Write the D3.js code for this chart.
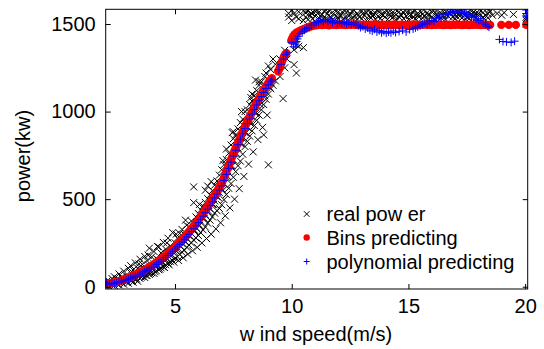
<!DOCTYPE html>
<html>
<head>
<meta charset="utf-8">
<script src="https://cdn.jsdelivr.net/npm/d3@7/dist/d3.min.js"></script>
<style>
  html, body { margin: 0; padding: 0; background: #fff; }
  svg { display: block; }
  text { font-family: "Liberation Sans", Arial, sans-serif; fill: #000; }
</style>
</head>
<body>
<svg id="chart" width="544" height="349"></svg>
<script>
// ---- data ----
const xTicks = [5, 10, 15, 20];
const yTicks = [0, 500, 1000, 1500];
const xDomain = [2.03, 20.11];
const yDomain = [-13, 1584];
const seriesNames = ["real pow er", "Bins predicting", "polynomial predicting"];

// real power: [wind speed, power]
const realPoints = [
[2.1,5],[2.1,20],[2.1,35],[2.2,0],[2.2,28],[2.3,10],[2.3,47],[2.4,7],[2.4,32],[2.4,57],[2.5,18],[2.5,43],
[2.6,11],[2.6,38],[2.6,73],[2.7,24],[2.7,54],[2.8,14],[2.8,49],[2.8,89],[2.9,29],[2.9,64],[3.0,20],[3.0,55],
[3.0,105],[3.1,35],[3.1,80],[3.1,120],[3.2,26],[3.2,51],[3.2,96],[3.3,41],[3.3,76],[3.3,136],[3.4,31],[3.4,61],
[3.4,106],[3.5,47],[3.5,92],[3.5,157],[3.6,58],[3.6,78],[3.6,128],[3.7,53],[3.7,103],[3.7,173],[3.8,64],[3.8,89],
[3.8,149],[3.9,70],[3.9,120],[3.9,220],[4.0,80],[4.0,105],[4.0,170],[4.1,76],[4.1,131],[4.1,201],[4.2,91],[4.2,116],
[4.2,161],[4.3,97],[4.3,152],[4.3,227],[4.4,108],[4.4,138],[4.4,193],[4.5,113],[4.5,173],[4.5,253],[4.6,125],[4.6,155],
[4.6,215],[4.7,132],[4.7,197],[4.7,277],[4.8,143],[4.8,178],[4.8,233],[4.9,149],[4.9,219],[4.9,309],[5.0,161],[5.0,196],
[5.0,251],[5.1,172],[5.1,212],[5.1,277],[5.2,184],[5.2,234],[5.2,304],[5.3,197],[5.3,247],[5.3,327],[5.4,209],[5.4,264],
[5.4,299],[5.5,226],[5.5,276],[5.5,351],[5.6,238],[5.6,293],[5.6,343],[5.7,250],[5.7,305],[5.7,375],[5.8,267],[5.8,327],
[5.8,480],[5.8,570],[5.9,278],[5.9,338],[5.9,398],[6.0,293],[6.0,358],[6.0,418],[6.1,309],[6.1,374],[6.1,439],[6.2,325],
[6.2,390],[6.2,460],[6.3,341],[6.3,411],[6.3,481],[6.3,551],[6.4,363],[6.4,428],[6.4,503],[6.4,575],[6.5,380],[6.5,445],
[6.5,525],[6.6,399],[6.6,469],[6.6,549],[6.7,420],[6.7,490],[6.7,580],[6.8,434],[6.8,514],[6.8,604],[6.9,447],[6.9,537],
[6.9,637],[7.0,468],[7.0,558],[7.0,668],[7.1,497],[7.1,587],[7.1,697],[7.2,526],[7.2,626],[7.2,726],[7.2,786],[7.3,562],
[7.3,652],[7.3,762],[7.4,589],[7.4,689],[7.4,809],[7.5,625],[7.5,725],[7.5,845],[7.5,885],[7.6,657],[7.6,757],[7.6,867],
[7.7,691],[7.7,791],[7.7,901],[7.8,717],[7.8,817],[7.8,937],[7.9,757],[7.9,847],[7.9,957],[8.0,800],[8.0,880],[8.0,1000],
[8.1,830],[8.1,910],[8.1,1010],[8.2,860],[8.2,940],[8.2,1040],[8.3,890],[8.3,970],[8.3,1060],[8.3,1100],[8.4,920],[8.4,1000],
[8.4,1090],[8.5,950],[8.5,1030],[8.5,1120],[8.6,980],[8.6,1060],[8.6,1150],[8.6,1170],[8.7,1010],[8.7,1080],[8.7,1170],[8.8,1040],
[8.8,1110],[8.8,867],[8.9,1070],[8.9,1140],[8.9,1220],[9.0,696],[9.0,1100],[9.0,1180],[9.0,1260],[9.1,1130],[9.1,1240],[9.2,1150],
[9.2,1300],[9.3,1175],[9.3,1270],[9.5,1200],[9.5,1300],[9.63,1074],[9.7,1250],[9.7,1350],[9.8,1300],[9.87,1560],[9.87,1540],[10.0,1520],
[10.0,1580],[10.1,1353],[10.1,1268],[10.1,1560],[10.2,1220],[10.2,1380],[10.2,1540],[10.3,1373],[10.3,1570],[10.3,1530],[10.5,1365],[10.5,1520],
[10.5,1575],[10.6,1540],[10.6,1565],[10.7,1525],[10.7,1575],[10.8,1550],[10.9,1530],[10.9,1570],[11.0,1545],[11.0,1515],[11.1,1560],[11.1,1580],
[11.2,1530],[11.3,1555],[11.3,1520],[11.4,1570],[11.4,1540],[11.5,1525],[11.6,1550],[11.6,1575],[11.7,1535],[11.8,1560],[11.8,1515],[11.9,1545],
[12.0,1570],[12.0,1530],[12.1,1550],[12.2,1525],[12.2,1565],[12.3,1540],[12.4,1575],[12.4,1520],[12.5,1555],[12.6,1535],[12.6,1570],[12.7,1545],
[12.8,1560],[12.8,1525],[12.9,1540],[13.0,1575],[13.0,1530],[13.1,1550],[13.2,1520],[13.2,1565],[13.3,1545],[13.4,1570],[13.4,1535],[13.5,1555],
[13.6,1525],[13.6,1560],[13.7,1545],[13.8,1575],[13.8,1530],[13.9,1550],[14.0,1540],[14.0,1565],[14.1,1525],[14.2,1555],[14.2,1575],[14.3,1535],
[14.4,1560],[14.4,1545],[14.5,1520],[14.6,1570],[14.6,1540],[14.7,1550],[14.8,1530],[14.8,1565],[14.9,1545],[15.0,1575],[15.0,1525],[15.1,1555],
[15.2,1540],[15.2,1565],[15.3,1530],[15.4,1560],[15.4,1550],[15.5,1575],[15.6,1535],[15.6,1555],[15.7,1545],[15.8,1565],[15.8,1525],[15.9,1550],
[16.0,1570],[16.0,1540],[16.1,1530],[16.2,1555],[16.2,1575],[16.3,1545],[16.4,1560],[16.4,1535],[16.5,1550],[16.6,1570],[16.6,1525],[16.7,1545],
[16.8,1560],[16.8,1575],[16.9,1540],[17.0,1555],[17.0,1530],[17.1,1570],[17.2,1545],[17.2,1560],[17.3,1535],[17.4,1575],[17.4,1550],[17.5,1540],
[17.6,1560],[17.6,1530],[17.7,1555],[17.8,1570],[17.8,1545],[17.9,1535],[18.0,1560],[18.0,1550],[18.1,1575],[18.2,1540],[18.2,1565],[18.3,1550],
[18.4,1560],[18.4,1535],[18.5,1570],[18.8,1560],[19.1,1565],[19.5,1555],[20.05,1500],[20.05,1520],[20.05,1540],[20.05,1530],
[10.65,1582],[10.85,1560],[11.05,1578],[11.25,1548],[11.45,1582],[11.65,1538],[11.85,1580],[12.05,1552],[12.25,1580],[12.45,1545],[12.65,1582],[12.85,1550],
[13.05,1560],[13.25,1580],[13.45,1550],[13.65,1580],[13.85,1555],[14.05,1580],[14.25,1548],[14.45,1582],[14.65,1555],[14.85,1578],[15.05,1548],[15.25,1582],
[15.45,1540],[15.65,1580],[15.85,1552],[16.05,1582],[16.25,1540],[16.45,1578],[16.65,1552],[16.85,1582],[17.05,1545],[17.25,1580],[17.45,1528],[17.65,1580],
[17.85,1555],[18.05,1582],[18.25,1530],[18.45,1582],[18.6,1550],[19.0,1550],
[2.95,30],[3.15,40],[3.35,45],[3.55,55],[3.75,65],[3.95,75],[4.15,85],[4.35,100],[4.55,110],[4.75,125],[4.95,140],[5.15,150],
[5.35,165],[5.55,185],[5.75,205],[5.95,225],[6.15,250],[6.35,275],[6.55,300],[6.75,330],[6.95,365],[7.15,405],[7.35,450],[7.55,500],
[7.75,560],[7.95,630],[8.15,700],[8.35,770],[8.55,840],[8.75,910],[8.95,980],
[4.05,100],[4.25,120],[4.45,140],[4.65,160],[4.85,185],[5.05,205],[5.25,230],[5.45,255],[5.65,290],[5.85,320],[6.05,350],[6.25,390],
[6.45,430],[6.65,470],[6.85,510],[7.05,550],[7.25,630],[7.45,690],[7.65,760],[7.85,820],[8.05,880],[8.25,930],[8.45,990],[8.65,1040],
[8.85,1090],[9.05,1140],
[3.45,130],[3.85,180],[4.25,230],[4.65,250],[5.05,300],[5.45,380],[6.05,470],[6.55,600],[7.05,720],[7.45,880],[7.85,1000],[8.25,1080],
[8.45,1180],[8.85,1200]
];

// Bins predicting: [wind speed, power]
const binsPoints = [
[2.05,14],[2.1,16],[2.15,17],[2.2,19],[2.3,22],[2.4,25],[2.5,28],[2.6,32],[2.7,36],[2.8,40],[2.9,45],[3.0,50],
[3.1,56],[3.2,63],[3.3,69],[3.4,75],[3.5,82],[3.6,89],[3.7,96],[3.8,104],[3.9,112],[4.0,120],[4.1,129],[4.2,138],
[4.3,148],[4.4,158],[4.5,168],[4.6,179],[4.7,191],[4.8,203],[4.9,215],[5.0,228],[5.05,234],[5.1,241],[5.15,248],[5.2,255],
[5.25,262],[5.3,269],[5.35,276],[5.4,283],[5.45,290],[5.5,298],[5.55,305],[5.6,313],[5.65,321],[5.7,329],[5.75,337],[5.8,346],
[5.85,354],[5.9,363],[5.95,371],[6.0,380],[6.05,390],[6.1,399],[6.15,408],[6.2,418],[6.25,428],[6.3,438],[6.35,448],[6.4,458],
[6.45,468],[6.5,478],[6.55,489],[6.6,500],[6.65,511],[6.7,522],[6.75,533],[6.8,544],[6.85,555],[6.9,567],[6.95,578],[7.0,590],
[7.05,606],[7.1,622],[7.15,639],[7.2,656],[7.25,673],[7.3,690],[7.35,707],[7.4,725],[7.45,742],[7.5,760],[7.55,776],[7.6,792],
[7.65,807],[7.7,823],[7.75,838],[7.8,854],[7.85,869],[7.9,885],[7.95,900],[8.0,915],[8.05,929],[8.1,943],[8.15,956],[8.2,970],
[8.25,983],[8.3,997],[8.35,1010],[8.4,1024],[8.45,1037],[8.5,1050],[8.55,1062],[8.6,1074],[8.65,1086],[8.7,1098],[8.75,1110],[8.8,1121],
[8.85,1132],[8.9,1143],[8.95,1154],[9.0,1165],[9.05,1173],[9.1,1180],[9.15,1190],
[9.42,1230],[9.47,1245],[9.52,1262],[9.57,1280],[9.62,1298],[9.67,1314],[9.72,1326],[9.77,1334],
[9.98,1405],[10.02,1418],[10.07,1430],[10.12,1440],[10.2,1450],[10.3,1458],[10.4,1465],[10.5,1470],[10.6,1476],[10.7,1482],[10.8,1486],[10.9,1490],
[11.0,1492],[11.1,1494],[11.2,1495],[11.3,1494],[11.4,1496],[11.5,1495],[11.6,1493],[11.7,1495],[11.8,1496],[11.9,1494],[12.0,1495],[12.1,1497],
[12.2,1495],[12.3,1494],[12.4,1496],[12.5,1495],[12.6,1497],[12.7,1496],[12.8,1495],[12.9,1494],[13.0,1495],[13.1,1496],[13.2,1495],[13.3,1494],
[13.4,1496],[13.5,1495],[13.6,1497],[13.7,1495],[13.8,1494],[13.9,1496],[14.0,1495],[14.1,1494],[14.2,1496],[14.3,1495],[14.4,1497],[14.5,1495],
[14.6,1494],[14.7,1496],[14.8,1495],[14.9,1494],[15.0,1496],[15.1,1495],[15.2,1497],[15.3,1495],[15.4,1494],[15.5,1496],[15.6,1495],[15.7,1497],
[15.8,1496],[15.9,1495],[16.0,1494],[16.1,1496],[16.2,1495],[16.3,1497],[16.4,1495],[16.5,1494],[16.6,1496],[16.7,1495],[16.8,1494],[16.9,1496],
[17.0,1495],[17.1,1497],[17.2,1495],[17.3,1494],[17.4,1496],[17.5,1495],[17.6,1494],[17.7,1496],[17.8,1495],[17.9,1497],[18.0,1495],[18.1,1494],
[18.2,1496],[18.3,1495],[18.4,1494],[18.5,1495],[18.98,1495],[19.3,1495],[19.6,1495],[20.05,1495]
];

// polynomial predicting: [wind speed, power]
const polyPoints = [
[2.05,25],[2.1,12],[2.2,15],[2.3,17],[2.4,20],[2.5,23],[2.6,26],[2.7,30],[2.8,34],[2.9,38],[3.0,43],[3.1,48],
[3.2,54],[3.3,60],[3.4,66],[3.5,72],[3.6,79],[3.7,86],[3.8,93],[3.9,101],[4.0,109],[4.1,118],[4.2,127],[4.3,136],
[4.4,146],[4.5,156],[4.6,167],[4.7,178],[4.8,190],[4.9,202],[5.0,215],[5.1,228],[5.2,241],[5.3,255],[5.4,269],[5.5,284],
[5.6,299],[5.7,315],[5.8,331],[5.9,348],[6.0,366],[6.1,384],[6.2,403],[6.3,423],[6.4,443],[6.5,463],[6.6,485],[6.7,507],
[6.8,529],[6.9,552],[7.0,576],[7.1,607],[7.2,641],[7.3,676],[7.4,711],[7.5,746],[7.6,779],[7.7,811],[7.8,842],[7.9,873],
[8.0,903],[8.1,931],[8.2,958],[8.3,985],[8.4,1012],[8.5,1038],[8.6,1062],[8.7,1086],[8.8,1109],[8.9,1132],[9.0,1153],[9.1,1170],
[9.15,1180],[9.45,1240],[9.55,1270],[9.65,1300],[9.75,1325],[9.8,1335],
[10.0,1395],[10.08,1370],[10.15,1385],[10.2,1400],[10.25,1415],[10.3,1430],[10.35,1445],[10.45,1455],[10.55,1465],[10.65,1475],[10.75,1480],[10.85,1490],
[10.95,1500],[11.05,1508],[11.15,1512],[11.25,1520],[11.35,1512],[11.45,1525],[11.55,1515],[11.65,1522],[11.75,1508],[11.85,1518],[11.95,1505],[12.05,1512],
[12.15,1502],[12.25,1510],[12.35,1500],[12.45,1508],[12.55,1498],[12.65,1505],[12.75,1495],[12.85,1490],[12.95,1480],[13.05,1485],[13.15,1472],[13.25,1478],
[13.35,1465],[13.45,1460],[13.55,1470],[13.65,1455],[13.75,1462],[13.85,1450],[13.95,1458],[14.05,1448],[14.15,1455],[14.25,1450],[14.35,1460],[14.45,1452],
[14.6,1458],[14.75,1465],[14.9,1455],[15.05,1468],[15.2,1472],[15.3,1478],[15.4,1484],[15.5,1490],[15.6,1498],[15.7,1505],[15.8,1500],[15.9,1512],
[16.0,1520],[16.1,1515],[16.2,1530],[16.3,1540],[16.4,1535],[16.5,1552],[16.6,1560],[16.7,1555],[16.8,1568],[16.9,1572],[17.0,1562],[17.1,1574],
[17.2,1566],[17.3,1560],[17.4,1565],[17.5,1552],[17.6,1556],[17.7,1540],[17.8,1545],[17.9,1528],[18.0,1520],[18.1,1530],[18.2,1505],[18.3,1498],
[18.4,1488],[18.45,1482],[18.9,1412],[19.05,1400],[19.2,1398],[19.4,1395],[19.55,1402],[20.05,1580],[20.05,1560],[20.05,1545]
];

// ---- layout ----
const svg = d3.select("#chart");
const W = 544, H = 349;
const plot = { left: 105.7, right: 527.7, top: 9.3, bottom: 289 };

svg.append("rect").attr("width", W).attr("height", H).attr("fill", "#fff");

const x = d3.scaleLinear().domain(xDomain).range([plot.left, plot.right]);
const y = d3.scaleLinear().domain(yDomain).range([plot.bottom, plot.top]);

svg.append("defs").append("clipPath").attr("id", "clip")
  .append("rect")
  .attr("x", plot.left).attr("y", plot.top)
  .attr("width", plot.right - plot.left).attr("height", plot.bottom - plot.top);

const marks = svg.append("g").attr("clip-path", "url(#clip)");

// real power: black crosses
const xs = 3.5;
marks.append("g").selectAll("path").data(realPoints).join("path")
  .attr("d", d => {
    const cx = x(d[0]), cy = y(d[1]);
    return `M${cx - xs},${cy - xs}L${cx + xs},${cy + xs}M${cx - xs},${cy + xs}L${cx + xs},${cy - xs}`;
  })
  .attr("stroke", "#000").attr("stroke-width", 1).attr("fill", "none");

// bins predicting: red dots
marks.append("g").selectAll("circle").data(binsPoints).join("circle")
  .attr("cx", d => x(d[0])).attr("cy", d => y(d[1])).attr("r", 4.2)
  .attr("fill", "#ff0000");

// polynomial predicting: blue plus
const ps = 4;
marks.append("g").selectAll("path").data(polyPoints).join("path")
  .attr("d", d => {
    const cx = x(d[0]), cy = y(d[1]);
    return `M${cx - ps},${cy}L${cx + ps},${cy}M${cx},${cy - ps}L${cx},${cy + ps}`;
  })
  .attr("stroke", "#0000ff").attr("stroke-width", 1).attr("fill", "none");

// ---- axes (ticks inward, on all four sides) ----
const fontSize = 20;
const fmt = d3.format("d");
const axB = svg.append("g").attr("transform", `translate(0,${plot.bottom})`)
  .call(d3.axisBottom(x).tickValues(xTicks).tickFormat(fmt).tickSizeInner(-5).tickSizeOuter(0).tickPadding(10));
const axT = svg.append("g").attr("transform", `translate(0,${plot.top})`)
  .call(d3.axisTop(x).tickValues(xTicks).tickSizeInner(-5).tickSizeOuter(0).tickFormat(""));
const axL = svg.append("g").attr("transform", `translate(${plot.left},0)`)
  .call(d3.axisLeft(y).tickValues(yTicks).tickFormat(fmt).tickSizeInner(-5).tickSizeOuter(0).tickPadding(10));
const axR = svg.append("g").attr("transform", `translate(${plot.right},0)`)
  .call(d3.axisRight(y).tickValues(yTicks).tickSizeInner(-5).tickSizeOuter(0).tickFormat(""));

[axB, axT, axL, axR].forEach(a => {
  a.select(".domain").remove();
  a.selectAll("line").attr("stroke", "#000").attr("stroke-width", 1);
  a.selectAll("text").attr("font-size", fontSize)
    .attr("font-family", "'Liberation Sans', Arial, sans-serif").attr("fill", "#000");
});

// frame
svg.append("rect")
  .attr("x", plot.left).attr("y", plot.top)
  .attr("width", plot.right - plot.left).attr("height", plot.bottom - plot.top)
  .attr("fill", "none").attr("stroke", "#000").attr("stroke-width", 1);

// axis labels
svg.append("text")
  .attr("x", 316).attr("y", 341)
  .attr("text-anchor", "middle").attr("font-size", fontSize)
  .text("w ind speed(m/s)");
svg.append("text")
  .attr("transform", "translate(30,156) rotate(-90)")
  .attr("text-anchor", "middle").attr("font-size", fontSize)
  .text("power(kw)");

// ---- legend ----
const legend = svg.append("g");
const legX = 306.7, legTextX = 326.5;
const legY = [214, 237.5, 261.5];
legend.append("path")
  .attr("d", `M${legX - 2.8},${legY[0] - 2.8}L${legX + 2.8},${legY[0] + 2.8}M${legX - 2.8},${legY[0] + 2.8}L${legX + 2.8},${legY[0] - 2.8}`)
  .attr("stroke", "#000").attr("stroke-width", 1);
legend.append("circle").attr("cx", legX).attr("cy", legY[1]).attr("r", 3.2).attr("fill", "#ff0000");
legend.append("path")
  .attr("d", `M${legX - 3},${legY[2]}L${legX + 3},${legY[2]}M${legX},${legY[2] - 3}L${legX},${legY[2] + 3}`)
  .attr("stroke", "#0000ff").attr("stroke-width", 1);
legend.selectAll("text.leg").data(seriesNames).join("text")
  .attr("class", "leg")
  .attr("x", legTextX).attr("y", (d, i) => legY[i] + 7)
  .attr("font-size", fontSize)
  .text(d => d);
</script>
</body>
</html>
